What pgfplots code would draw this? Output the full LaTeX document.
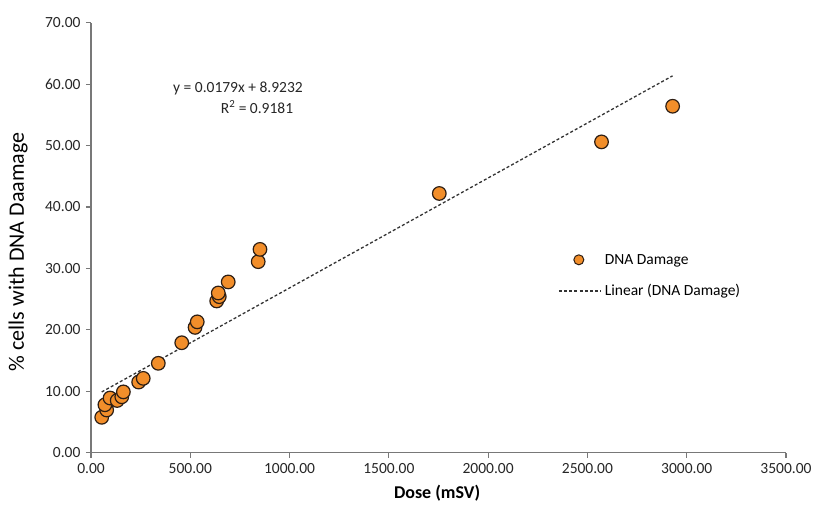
\documentclass[border=0pt]{standalone}
\usepackage{pgfplots}
\pgfplotsset{compat=1.18}
\usepackage{fontspec}
\setmainfont{Carlito}
\definecolor{dotfill}{RGB}{242,142,42}
\definecolor{dotedge}{RGB}{45,30,20}
\definecolor{axgray}{RGB}{120,120,120}
\begin{document}
\begin{tikzpicture}[x=1pt,y=1pt]
\begin{axis}[
  scale only axis,
  width=695pt, height=430pt,
  xmin=0, xmax=3500, ymin=0, ymax=70,
  xtick={0,500,...,3500}, ytick={0,10,...,70},
  axis lines=left,
  axis line style={axgray, line width=1.3pt, -},
  tick align=outside,
  major tick length=5pt,
  tick style={axgray, line width=1.1pt},
  /pgf/number format/assume math mode=true,
  /pgf/number format/.cd, fixed, fixed zerofill, precision=2, 1000 sep={},
  /pgfplots/.cd,
  ticklabel style={font=\fontsize{15.5}{18}\selectfont, text=black!85},
  yticklabel style={xshift=-2pt},
  xticklabel style={yshift=-2pt},
  xlabel={\textbf{Dose (mSV)}},
  ylabel={\% cells with DNA Daamage},
  xlabel style={font=\fontsize{18}{21}\selectfont, at={(axis description cs:0.498,-0.094)}, anchor=center},
  ylabel style={font=\fontsize{22}{26}\selectfont, at={(axis description cs:-0.105,0.467)}, anchor=center},
  clip=false,
  legend style={draw=none, fill=none, at={(0.672,0.467)}, anchor=north west,
    font=\fontsize{15.5}{18}\selectfont, row sep=15pt, inner sep=0pt},
  legend cell align=left,
]
\addplot[only marks, mark=*, mark size=6.8pt,
  mark options={fill=dotfill, draw=dotedge, line width=1.2pt},
  legend image code/.code={\path[draw=none, fill=none] (0pt,0pt) -- (44pt,0pt);\draw[fill=dotfill, draw=dotedge, line width=1pt, solid] (20pt,0pt) circle (5pt);}]
coordinates {
(54,5.76) (79,6.95) (70,7.8) (96,8.9) (132,8.5) (155,9.1) (163,9.9)
(240,11.5) (263,12.1) (339,14.55) (457,17.9) (524,20.4) (535,21.3)
(633,24.7) (646,25.4) (641,26.0) (691,27.8) (842,31.1) (851,33.1)
(1754,42.2) (2571,50.6) (2929,56.4)
};
\addlegendentry{DNA Damage}
\addplot[black!80, line width=1.3pt, dash pattern=on 3pt off 2.2pt,
  legend image code/.code={\path[draw=none] (0pt,0pt) -- (44pt,0pt);\draw[black!80, line width=1.2pt, dash pattern=on 3pt off 2.2pt] (0pt,0pt) -- (42pt,0pt);}]
coordinates {(54,9.8898) (2929,61.3523)};
\addlegendentry{Linear (DNA Damage)}
\node[font=\fontsize{15.5}{18}\selectfont, text=black!85] at (axis cs:740,59.37) {y = 0.0179x + 8.9232};
\node[font=\fontsize{15.5}{18}\selectfont, text=black!85] at (axis cs:836,56.27) {R\textsuperscript{2} = 0.9181};
\end{axis}
\pgfresetboundingbox
\path ([xshift=-91pt,yshift=-57.3pt]current axis.south west) rectangle ([xshift=27pt,yshift=22.7pt]current axis.north east);
\end{tikzpicture}
\end{document}
